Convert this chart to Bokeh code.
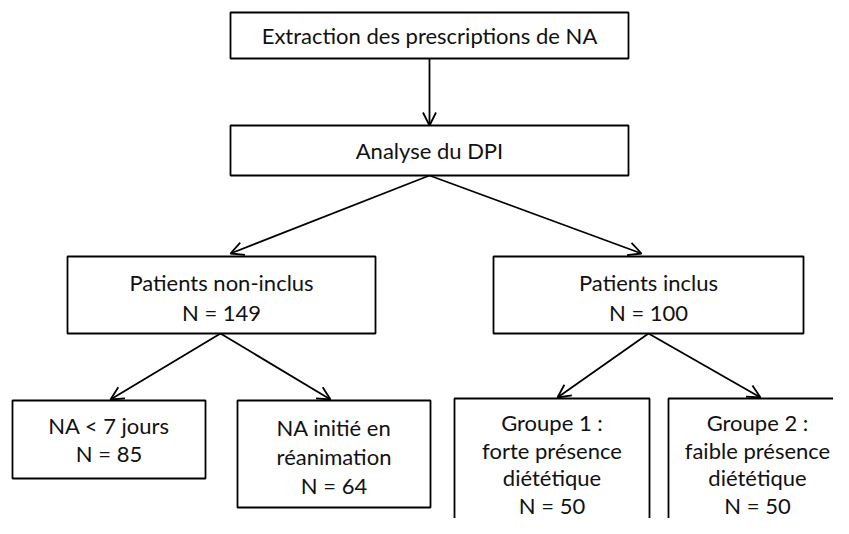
from bokeh.plotting import figure
from bokeh.models import Range1d, Arrow, OpenHead, ColumnDataSource
from bokeh.core.properties import value
from bokeh.embed import file_html
from bokeh.resources import INLINE

# ---- content ----
box_names = ["extract", "dpi", "noninc", "inc", "na7", "rea", "g1", "g2"]
box_lines = [
    ["Extraction des prescriptions de NA"],
    ["Analyse du DPI"],
    ["Patients non-inclus", "N = 149"],
    ["Patients inclus", "N = 100"],
    ["NA < 7 jours", "N = 85"],
    ["NA initié en", "réanimation", "N = 64"],
    ["Groupe 1 :", "forte présence", "diététique", "N = 50"],
    ["Groupe 2 :", "faible présence", "diététique", "N = 50"],
]
edges = [("extract", "dpi"), ("dpi", "noninc"), ("dpi", "inc"),
         ("noninc", "na7"), ("noninc", "rea"), ("inc", "g1"), ("inc", "g2")]

# ---- layout (page pixels) ----
box_left   = [230, 230, 67, 493, 12, 237, 454, 668]
box_right  = [628, 628, 375, 803, 205, 430, 649, 848]
box_top    = [12, 125, 256, 256, 400, 400, 398, 398]
box_bottom = [58, 175, 333, 333, 478, 507, 560, 560]
text_y0    = [35, 150, 282, 282, 425, 427, 422, 422]
line_gap   = [0, 0, 30, 30, 28, 29, 27.5, 27.5]
arrow_start = {("extract", "dpi"): (429, 58), ("dpi", "noninc"): (429, 175), ("dpi", "inc"): (429, 175),
               ("noninc", "na7"): (220, 333), ("noninc", "rea"): (220, 333),
               ("inc", "g1"): (648, 333), ("inc", "g2"): (648, 333)}
arrow_end = {("extract", "dpi"): (429, 125), ("dpi", "noninc"): (230, 253), ("dpi", "inc"): (641, 253),
             ("noninc", "na7"): (110, 399), ("noninc", "rea"): (330, 399),
             ("inc", "g1"): (557, 397), ("inc", "g2"): (760, 397)}

W, H = 833, 518
p = figure(width=W, height=H, output_backend="svg", toolbar_location=None,
           x_range=Range1d(0, W), y_range=Range1d(H, 0),
           min_border=0, outline_line_color=None)
p.axis.visible = False
p.grid.visible = False
p.background_fill_color = "white"
p.border_fill_color = "white"

p.quad(left=box_left, right=box_right, top=box_top, bottom=box_bottom,
       fill_color="white", line_color="black", line_width=1.8)

for e in edges:
    (x0, y0), (x1, y1) = arrow_start[e], arrow_end[e]
    p.add_layout(Arrow(x_start=x0, y_start=y0, x_end=x1, y_end=y1,
                       line_color="black", line_width=1.8,
                       end=OpenHead(size=13, line_color="black", line_width=1.8)))

tx, ty, tt = [], [], []
for i, lines in enumerate(box_lines):
    cx = (box_left[i] + box_right[i]) / 2
    if box_names[i] == "g2":
        cx = 757
    for j, s in enumerate(lines):
        tx.append(cx)
        ty.append(text_y0[i] + j * line_gap[i])
        tt.append(s)
src = ColumnDataSource(dict(x=tx, y=ty, text=tt))
p.text(x="x", y="y", text="text", source=src, text_align="center", text_baseline="middle",
       text_font=value("Lato"), text_font_size="22px", text_color="#111111")

open("out.html", "w").write(file_html(p, INLINE))
